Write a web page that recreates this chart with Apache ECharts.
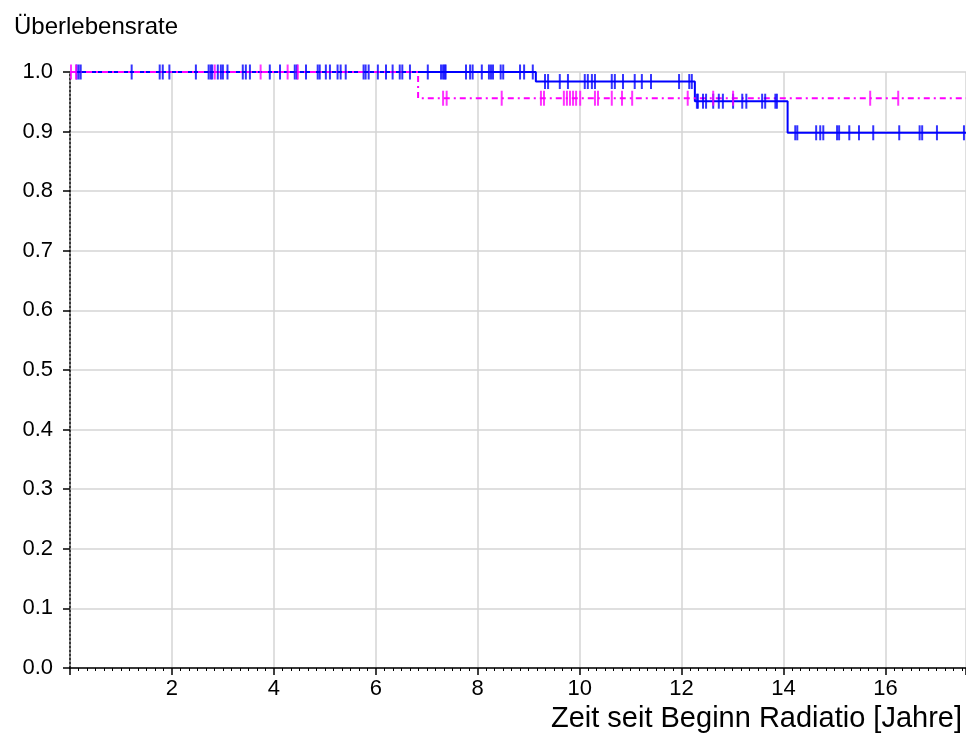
<!DOCTYPE html>
<html>
<head>
<meta charset="utf-8">
<script src="https://cdn.jsdelivr.net/npm/echarts@6/dist/echarts.min.js"></script>
<style>
html,body{margin:0;padding:0;background:#fff;}
#chart{width:966px;height:737px;}
</style>
</head>
<body>
<div id="chart"></div>
<script>
// Kaplan-Meier step points [time, survival]
const blueSteps = [[0, 1], [9.14, 0.984], [12.26, 0.951], [14.08, 0.898], [17.58, 0.898]];
const magentaSteps = [[0, 1], [6.83, 0.956], [17.58, 0.956]];

// censoring times (years)
const blueCensored = [0.13, 0.17, 0.21, 1.21, 1.76, 1.82, 1.95, 2.47, 2.72, 2.76, 2.79, 2.90, 2.96, 3.00, 3.09,
  3.39, 3.45, 3.53, 3.92, 4.12, 4.41, 4.45, 4.63, 4.86, 4.90, 5.02, 5.10, 5.25, 5.31, 5.41, 5.76, 5.80, 5.86,
  6.04, 6.20, 6.33, 6.47, 6.52, 6.67, 7.02, 7.28, 7.32, 7.35, 7.37, 7.77, 7.85, 7.90, 8.08, 8.22, 8.26, 8.30,
  8.45, 8.50, 8.83, 8.91, 9.08,
  9.32, 9.38, 9.61, 9.77, 10.10, 10.16, 10.24, 10.30, 10.63, 10.69, 10.85, 11.08, 11.22, 11.40, 11.95, 12.15, 12.20,
  12.30, 12.32, 12.42, 12.48, 12.62, 12.73, 12.81, 13.01, 13.19, 13.27, 13.58, 13.64, 13.84, 13.87,
  14.23, 14.27, 14.64, 14.72, 14.78, 15.05, 15.09, 15.29, 15.48, 15.76, 16.27, 16.67, 16.72, 17.01, 17.54];
const magentaCensored = [0.02, 0.12, 2.84, 3.74, 4.27, 4.47,
  7.32, 7.39, 8.47, 9.24, 9.30, 9.69, 9.75, 9.81, 9.87, 9.93, 10.01, 10.30, 10.36, 10.63, 10.83, 11.03,
  12.12, 12.62, 13.01, 15.70, 16.25];

const yTicks = [0, 0.1, 0.2, 0.3, 0.4, 0.5, 0.6, 0.7, 0.8, 0.9, 1.0];

function survivalAt(steps, t) {
  let s = steps[0][1];
  for (const [tt, v] of steps) { if (tt <= t) s = v; }
  return s;
}

const FONT = "'Liberation Sans', Arial, Helvetica, sans-serif";
const chart = echarts.init(document.getElementById('chart'), null, {renderer: 'canvas'});
chart.setOption({
  animation: false,
  backgroundColor: '#fff',
  title: {
    text: 'Überlebensrate',
    left: 9, top: 10,
    textStyle: {fontFamily: FONT, fontSize: 24, fontWeight: 'normal', color: '#000'}
  },
  grid: {left: 70, right: 0, top: 72, bottom: 69, containLabel: false},
  xAxis: {
    type: 'value', min: 0, max: 17.58, interval: 2,
    name: 'Zeit seit Beginn Radiatio [Jahre]',
    nameLocation: 'end', nameGap: -4,
    nameTextStyle: {fontFamily: FONT, fontSize: 29, color: '#000', align: 'right', verticalAlign: 'top', padding: [36, 0, 0, 0]},
    axisLine: {show: true, onZero: false, lineStyle: {color: '#000', width: 1.5}},
    axisTick: {show: true, inside: false, length: 7, lineStyle: {color: '#000', width: 1.5}},
    minorTick: {show: true, splitNumber: 12, length: 3, lineStyle: {color: '#000', width: 1}},
    axisLabel: {fontFamily: FONT, fontSize: 22, color: '#000', margin: 10, showMinLabel: false, showMaxLabel: false,
      formatter: v => (v === 0 ? '' : String(v))},
    splitLine: {show: true, lineStyle: {color: '#d4d4d4', width: 1.5}}
  },
  yAxis: {
    type: 'value', min: 0, max: 1, interval: 0.1,
    axisLine: {show: true, onZero: false, lineStyle: {color: '#000', width: 1.5, type: [2, 2]}},
    axisTick: {show: true, inside: false, length: 7, lineStyle: {color: '#000', width: 1.5}},
    minorTick: {show: false},
    axisLabel: {fontFamily: FONT, fontSize: 22, color: '#000', margin: 17,
      formatter: v => {
        const t = yTicks.find(x => Math.abs(x - v) < 1e-6);
        return (t !== undefined ? t : v).toFixed(1);
      }},
    splitLine: {show: true, lineStyle: {color: '#d4d4d4', width: 1.5}}
  },
  series: [
    {
      name: 'blue', type: 'line', step: 'end', data: blueSteps, showSymbol: false, symbol: 'none',
      lineStyle: {color: '#0000ff', width: 2}, z: 2
    },
    {
      name: 'magenta', type: 'line', step: 'end', data: magentaSteps, showSymbol: false, symbol: 'none',
      lineStyle: {color: '#ff00ff', width: 2, type: [6, 4, 2, 4]}, z: 3
    },
    {
      name: 'blueCens', type: 'scatter', symbol: 'rect', symbolSize: [2, 15],
      data: blueCensored.map(t => [t, survivalAt(blueSteps, t)]),
      itemStyle: {color: '#0000ff'}, z: 4
    },
    {
      name: 'magentaCens', type: 'scatter', symbol: 'rect', symbolSize: [2, 15],
      data: magentaCensored.map(t => [t, survivalAt(magentaSteps, t)]),
      itemStyle: {color: '#ff00ff'}, z: 5
    }
  ]
});
</script>
</body>
</html>
